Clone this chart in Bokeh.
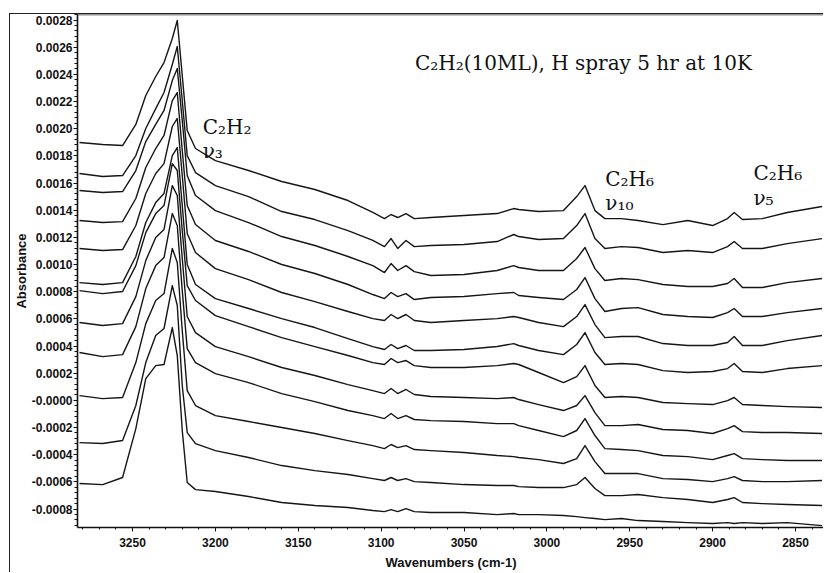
from bokeh.plotting import figure
from bokeh.models import (ColumnDataSource, Range1d, SingleIntervalTicker,
                          CustomJSTickFormatter, Label, Span)
from bokeh.embed import file_html
from bokeh.resources import INLINE

wavenumber = [3282, 3268, 3256, 3248, 3242, 3236, 3231, 3226, 3223, 3220, 3217, 3212,
              3200, 3180, 3160, 3140, 3120, 3105, 3098, 3094, 3090, 3085, 3080, 3070,
              3050, 3030, 3020, 3017, 3005, 2990, 2982, 2977, 2971, 2965, 2955, 2945,
              2930, 2915, 2900, 2891, 2887, 2882, 2870, 2855, 2834]

# Absorbance of the twelve stacked spectra (top to bottom)
spectrum_01 = [0.001898, 0.001883, 0.001876, 0.002031, 0.002244, 0.002384, 0.002487, 0.002664, 0.002796,
               0.002391, 0.001986, 0.001854, 0.001765, 0.001692, 0.001611, 0.001552, 0.001471, 0.001383,
               0.001338, 0.001368, 0.001346, 0.001375, 0.001338, 0.001346, 0.001361, 0.001375, 0.001412,
               0.001405, 0.001390, 0.001397, 0.001500, 0.001581, 0.001397, 0.001338, 0.001338, 0.001324,
               0.001294, 0.001324, 0.001287, 0.001338, 0.001383, 0.001331, 0.001338, 0.001383, 0.001427]
spectrum_02 = [0.001670, 0.001648, 0.001655, 0.001802, 0.002001, 0.002148, 0.002266, 0.002472, 0.002605,
               0.002207, 0.001802, 0.001677, 0.001581, 0.001500, 0.001390, 0.001331, 0.001250, 0.001177,
               0.001132, 0.001191, 0.001118, 0.001177, 0.001132, 0.001140, 0.001147, 0.001169, 0.001221,
               0.001206, 0.001184, 0.001191, 0.001287, 0.001375, 0.001191, 0.001118, 0.001132, 0.001125,
               0.001088, 0.001103, 0.001088, 0.001132, 0.001169, 0.001118, 0.001118, 0.001154, 0.001191]
spectrum_03 = [0.001545, 0.001530, 0.001537, 0.001692, 0.001905, 0.002031, 0.002134, 0.002354, 0.002443,
               0.002060, 0.001655, 0.001508, 0.001397, 0.001309, 0.001206, 0.001140, 0.001059, 0.000992,
               0.000941, 0.001007, 0.000956, 0.000992, 0.000948, 0.000919, 0.000926, 0.000956, 0.000992,
               0.000978, 0.000956, 0.000956, 0.001044, 0.001125, 0.000970, 0.000882, 0.000897, 0.000889,
               0.000853, 0.000838, 0.000838, 0.000860, 0.000897, 0.000831, 0.000831, 0.000867, 0.000897]
spectrum_04 = [0.001324, 0.001309, 0.001316, 0.001486, 0.001714, 0.001854, 0.001950, 0.002207, 0.002266,
               0.001839, 0.001434, 0.001294, 0.001177, 0.001096, 0.001000, 0.000934, 0.000853, 0.000779,
               0.000749, 0.000794, 0.000764, 0.000786, 0.000742, 0.000757, 0.000764, 0.000786, 0.000794,
               0.000772, 0.000757, 0.000742, 0.000816, 0.000904, 0.000749, 0.000654, 0.000676, 0.000683,
               0.000632, 0.000617, 0.000610, 0.000646, 0.000676, 0.000617, 0.000617, 0.000646, 0.000676]
spectrum_05 = [0.001118, 0.001103, 0.001110, 0.001287, 0.001523, 0.001670, 0.001743, 0.002016, 0.002075,
               0.001655, 0.001228, 0.001088, 0.000970, 0.000889, 0.000794, 0.000727, 0.000654, 0.000602,
               0.000588, 0.000632, 0.000602, 0.000632, 0.000588, 0.000573, 0.000588, 0.000602, 0.000617,
               0.000610, 0.000573, 0.000543, 0.000617, 0.000705, 0.000558, 0.000462, 0.000470, 0.000470,
               0.000418, 0.000404, 0.000404, 0.000426, 0.000470, 0.000404, 0.000404, 0.000440, 0.000477]
spectrum_06 = [0.000867, 0.000853, 0.000867, 0.001059, 0.001309, 0.001456, 0.001523, 0.001802, 0.001861,
               0.001434, 0.001000, 0.000853, 0.000749, 0.000676, 0.000602, 0.000536, 0.000455, 0.000396,
               0.000374, 0.000411, 0.000381, 0.000404, 0.000367, 0.000367, 0.000374, 0.000396, 0.000418,
               0.000404, 0.000367, 0.000337, 0.000411, 0.000499, 0.000352, 0.000264, 0.000271, 0.000264,
               0.000219, 0.000205, 0.000212, 0.000234, 0.000271, 0.000212, 0.000205, 0.000234, 0.000256]
spectrum_07 = [0.000808, 0.000786, 0.000801, 0.000992, 0.001235, 0.001375, 0.001434, 0.001743, 0.001692,
               0.001250, 0.000845, 0.000735, 0.000624, 0.000543, 0.000462, 0.000396, 0.000330, 0.000278,
               0.000264, 0.000308, 0.000278, 0.000293, 0.000256, 0.000242, 0.000242, 0.000256, 0.000271,
               0.000264, 0.000205, 0.000131, 0.000175, 0.000256, 0.000109, 0.000021, 0.000028, 0.000021,
               -0.000016, -0.000024, -0.000031, -0.000002, 0.000021, -0.000031, -0.000038, -0.000046, -0.000053]
spectrum_08 = [0.000573, 0.000551, 0.000565, 0.000764, 0.001029, 0.001199, 0.001258, 0.001581, 0.001508,
               0.001044, 0.000617, 0.000499, 0.000396, 0.000322, 0.000242, 0.000183, 0.000116, 0.000072,
               0.000050, 0.000087, 0.000050, 0.000080, 0.000043, 0.000028, 0.000021, 0.000013, 0.000021,
               0.000006, -0.000031, -0.000075, -0.000038, 0.000035, -0.000090, -0.000186, -0.000186, -0.000178,
               -0.000215, -0.000222, -0.000244, -0.000208, -0.000186, -0.000230, -0.000237, -0.000237, -0.000244]
spectrum_09 = [0.000352, 0.000322, 0.000337, 0.000543, 0.000823, 0.000992, 0.001051, 0.001375, 0.001287,
               0.000808, 0.000381, 0.000278, 0.000197, 0.000131, 0.000050, -0.000009, -0.000075, -0.000112,
               -0.000134, -0.000097, -0.000134, -0.000112, -0.000141, -0.000149, -0.000156, -0.000171, -0.000171,
               -0.000186, -0.000222, -0.000267, -0.000222, -0.000134, -0.000259, -0.000355, -0.000362, -0.000370,
               -0.000406, -0.000414, -0.000436, -0.000406, -0.000392, -0.000429, -0.000436, -0.000443, -0.000443]
spectrum_10 = [0.000035, 0.000013, 0.000021, 0.000278, 0.000565, 0.000735, 0.000786, 0.001118, 0.001015,
               0.000514, 0.000072, -0.000038, -0.000112, -0.000156, -0.000200, -0.000244, -0.000296, -0.000333,
               -0.000355, -0.000325, -0.000348, -0.000333, -0.000362, -0.000370, -0.000384, -0.000406, -0.000414,
               -0.000421, -0.000436, -0.000465, -0.000429, -0.000333, -0.000451, -0.000539, -0.000539, -0.000539,
               -0.000576, -0.000583, -0.000598, -0.000576, -0.000561, -0.000590, -0.000598, -0.000598, -0.000590]
spectrum_11 = [-0.000311, -0.000318, -0.000296, -0.000038, 0.000278, 0.000477, 0.000529, 0.000845, 0.000698,
               0.000109, -0.000237, -0.000318, -0.000370, -0.000421, -0.000480, -0.000517, -0.000546, -0.000576,
               -0.000590, -0.000568, -0.000590, -0.000576, -0.000598, -0.000605, -0.000620, -0.000627, -0.000627,
               -0.000635, -0.000642, -0.000642, -0.000620, -0.000568, -0.000649, -0.000701, -0.000701, -0.000693,
               -0.000716, -0.000730, -0.000752, -0.000730, -0.000716, -0.000752, -0.000760, -0.000767, -0.000774]
spectrum_12 = [-0.000612, -0.000620, -0.000568, -0.000208, 0.000160, 0.000256, 0.000264, 0.000536, 0.000330,
               -0.000222, -0.000605, -0.000657, -0.000671, -0.000708, -0.000752, -0.000774, -0.000789, -0.000811,
               -0.000819, -0.000804, -0.000819, -0.000797, -0.000819, -0.000826, -0.000826, -0.000841, -0.000833,
               -0.000841, -0.000841, -0.000848, -0.000856, -0.000863, -0.000870, -0.000878, -0.000870, -0.000885,
               -0.000892, -0.000900, -0.000907, -0.000900, -0.000907, -0.000900, -0.000907, -0.000900, -0.000922]

spectra = [spectrum_01, spectrum_02, spectrum_03, spectrum_04, spectrum_05, spectrum_06,
           spectrum_07, spectrum_08, spectrum_09, spectrum_10, spectrum_11, spectrum_12]

x_start, x_end = 3283.2, 2832.5
y_start, y_end = -0.000936, 0.0028405

p = figure(width=814, height=559, output_backend="svg", toolbar_location=None,
           x_range=Range1d(x_start, x_end), y_range=Range1d(y_start, y_end),
           min_border_left=66, min_border_right=0, min_border_top=0, min_border_bottom=46)
p.styles = {"margin-left": "9px", "margin-top": "13px",
            "border-left": "1px solid #222222", "border-top": "1px solid #222222"}
p.background_fill_color = "white"
p.border_fill_color = "white"
p.xgrid.visible = False
p.ygrid.visible = False
p.outline_line_color = None

for s in spectra:
    src = ColumnDataSource(dict(w=wavenumber, a=s))
    p.line("w", "a", source=src, line_color="#151515", line_width=1.4, line_join="round")

# axes
p.yaxis.ticker = SingleIntervalTicker(interval=0.0002, num_minor_ticks=5)
p.yaxis.formatter = CustomJSTickFormatter(
    code="return Math.abs(tick) < 1e-9 ? '-0.0000' : tick.toFixed(4);")
p.xaxis.ticker = SingleIntervalTicker(interval=50, num_minor_ticks=5)
p.xaxis.formatter = CustomJSTickFormatter(code="return tick.toFixed(0);")

for ax in (p.xaxis[0], p.yaxis[0]):
    ax.axis_line_color = "#111111"
    ax.axis_line_width = 1.6
    ax.major_tick_line_color = "#111111"
    ax.minor_tick_line_color = "#111111"
    ax.major_tick_in = 0
    ax.minor_tick_in = 0
    ax.major_label_text_font = "Liberation Sans"
    ax.major_label_text_font_style = "bold"
    ax.major_label_text_font_size = "12px"
    ax.major_label_text_color = "#111111"
    ax.axis_label_text_font = "Liberation Sans"
    ax.axis_label_text_font_style = "bold"
    ax.axis_label_text_font_size = "13px"
    ax.axis_label_text_color = "#111111"

p.yaxis.major_tick_out = 4
p.yaxis.minor_tick_out = 3
p.yaxis.major_label_standoff = 1
p.yaxis.axis_label = "Absorbance"
p.yaxis.axis_label_standoff = 0
p.xaxis.major_tick_out = 4
p.xaxis.minor_tick_out = 2
p.xaxis.major_label_standoff = 6
p.xaxis.axis_label = "Wavenumbers (cm-1)"
p.xaxis.axis_label_standoff = 5

p.add_layout(Span(location=y_end, dimension="width", line_color="#222222", line_width=1.5))

# annotations
title_txt = "C\u2082H\u2082(10ML), H spray 5 hr at 10K"
notes = [
    (title_txt, 3079.6, 0.002487),
    ("C\u2082H\u2082", 3207.7, 0.002009),
    ("\u03bd\u2083", 3207.7, 0.001839),
    ("C\u2082H\u2086", 2964.8, 0.001633),
    ("\u03bd\u2081\u2080", 2964.8, 0.001456),
    ("C\u2082H\u2086", 2875.4, 0.001677),
    ("\u03bd\u2085", 2875.4, 0.001493),
]
for txt, xw, ya in notes:
    p.add_layout(Label(x=xw, y=ya, text=txt, text_font="DejaVu Serif",
                       text_font_size="20px", text_color="#111111",
                       text_baseline="middle", text_align="left"))

open("out.html", "w").write(file_html(p, INLINE))
